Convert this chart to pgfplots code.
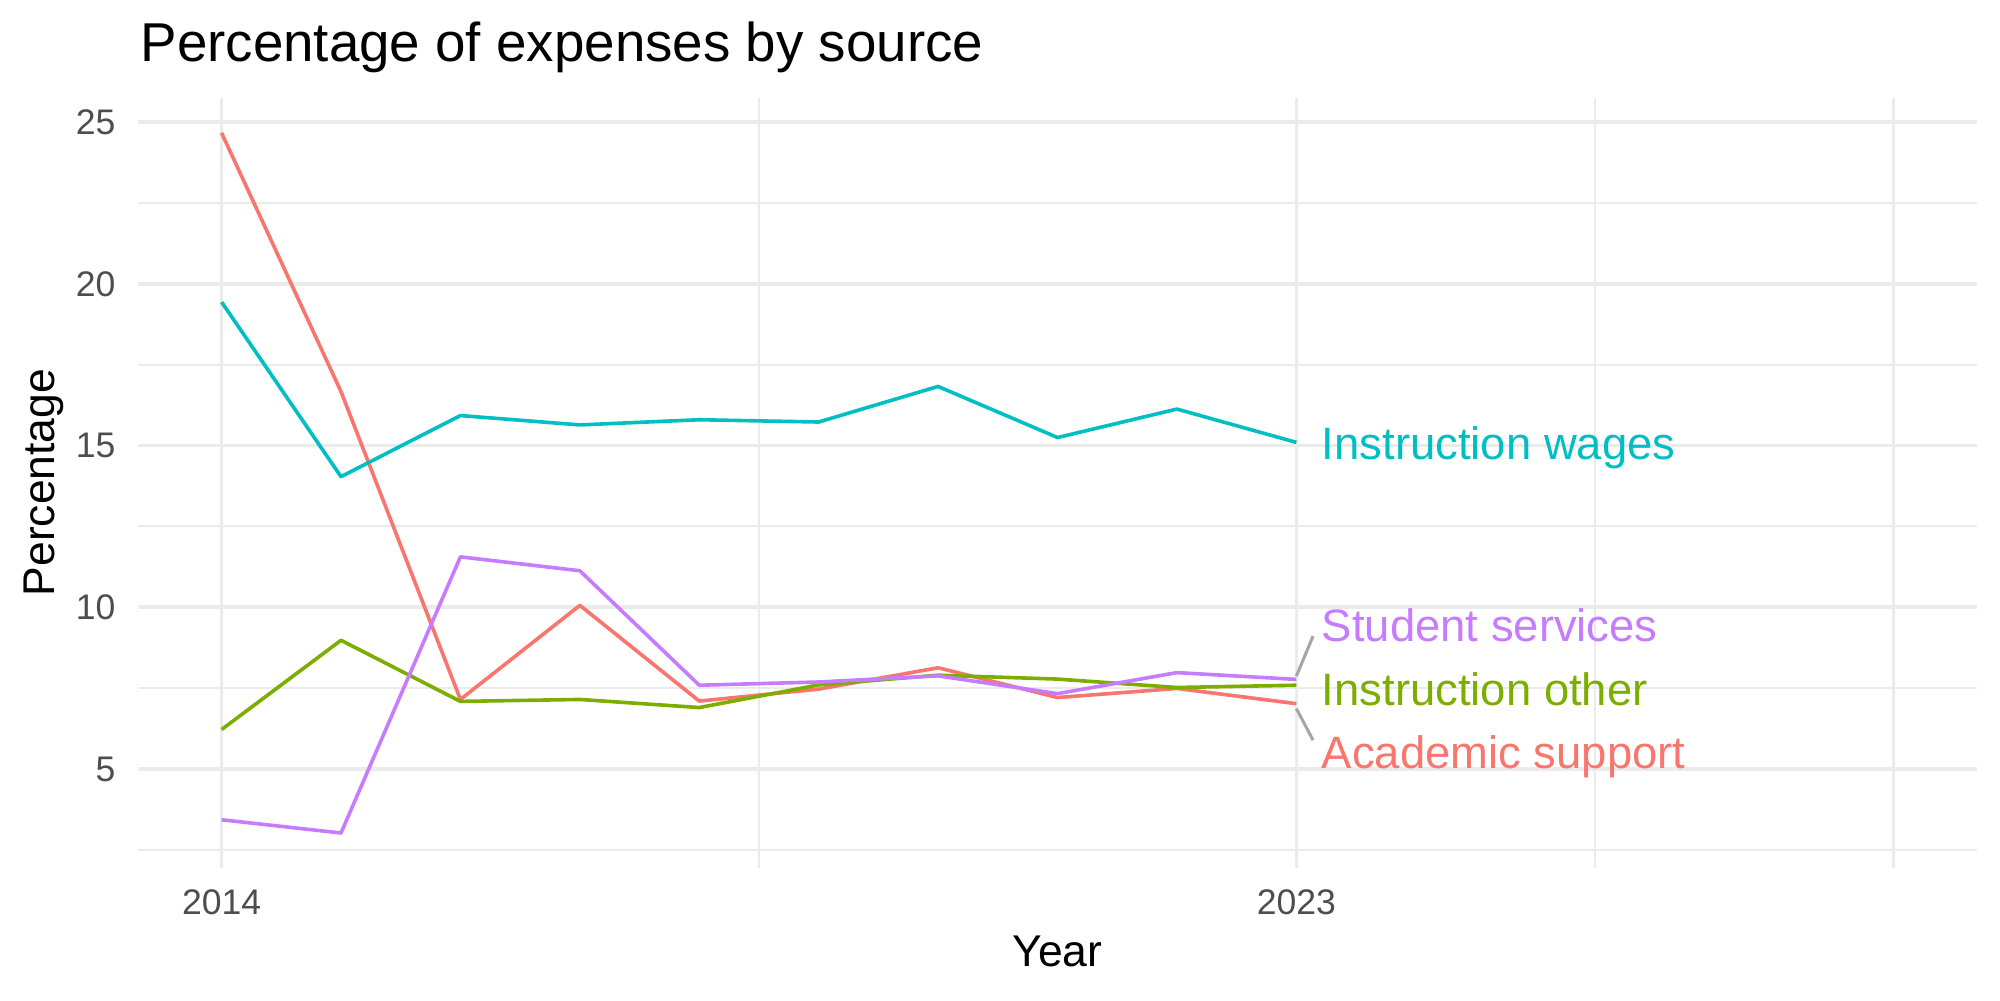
\documentclass[border=0pt]{standalone}
\usepackage{pgfplots}
\pgfplotsset{compat=1.18}
\usepackage{fontspec}
\setmainfont{Liberation Sans}

\definecolor{acad}{HTML}{F8766D}
\definecolor{instother}{HTML}{7CAE00}
\definecolor{wages}{HTML}{00BFC4}
\definecolor{student}{HTML}{C77CFF}
\definecolor{gridgrey}{HTML}{EBEBEB}
\definecolor{tickgrey}{HTML}{4D4D4D}
\definecolor{segment}{HTML}{A6A6A6}

\begin{document}
\begin{tikzpicture}
\useasboundingbox (0,0) rectangle (720pt,360pt);

\begin{axis}[
  at={(49.68pt,47.52pt)}, anchor=south west,
  scale only axis, width=662.04pt, height=277.2pt,
  xmin=2013.3, xmax=2028.7, ymin=1.9375, ymax=25.75,
  xtick={2014,2023,2028}, xticklabels={2014,2023,{}},
  minor xtick={2018.5,2025.5},
  ytick={5,10,15,20,25},
  minor ytick={2.5,7.5,12.5,17.5,22.5},
  grid=both,
  major grid style={draw=gridgrey, line width=1.3pt},
  minor grid style={draw=gridgrey, line width=0.7pt},
  axis line style={draw=none},
  major tick length=0pt, minor tick length=0pt,
  tick style={draw=none},
  /pgf/number format/assume math mode=true,
  xticklabel style={font=\fontsize{12.8}{14}\selectfont, text=tickgrey,
    anchor=base, inner sep=0pt, yshift=-16.9pt},
  yticklabel style={font=\fontsize{12.8}{14}\selectfont, text=tickgrey,
    anchor=east, inner sep=0pt, xshift=-7.9pt},
  clip=false,
  every axis plot/.append style={line width=1.3pt, line join=round, mark=none},
]

% Academic support
\addplot[acad] coordinates {
  (2014,24.67) (2015,16.67) (2016,7.15) (2017,10.06) (2018,7.10)
  (2019,7.47) (2020,8.13) (2021,7.21) (2022,7.49) (2023,7.02)};
% Instruction other
\addplot[instother] coordinates {
  (2014,6.22) (2015,8.98) (2016,7.09) (2017,7.15) (2018,6.90)
  (2019,7.60) (2020,7.90) (2021,7.78) (2022,7.52) (2023,7.59)};
% Instruction wages
\addplot[wages] coordinates {
  (2014,19.44) (2015,14.04) (2016,15.93) (2017,15.64) (2018,15.80)
  (2019,15.73) (2020,16.83) (2021,15.25) (2022,16.13) (2023,15.10)};
% Student services
\addplot[student] coordinates {
  (2014,3.43) (2015,3.02) (2016,11.56) (2017,11.13) (2018,7.59)
  (2019,7.69) (2020,7.88) (2021,7.33) (2022,7.98) (2023,7.77)};

% leader segments for the repelled labels
\addplot[segment, line width=1.1pt] coordinates {(2023.0,7.87) (2023.14,9.11)};
\addplot[segment, line width=1.1pt] coordinates {(2023.0,6.87) (2023.14,5.89)};

% direct labels at the line ends
\begin{scope}[every node/.style={anchor=base west, inner sep=0pt,
    font=\fontsize{16.35}{18}\selectfont}]
\node[text=wages]     at (axis cs:2023.21,14.58) {Instruction wages};
\node[text=student]   at (axis cs:2023.21,8.93)  {Student services};
\node[text=instother] at (axis cs:2023.21,6.97)  {Instruction other};
\node[text=acad]      at (axis cs:2023.21,5.03)  {Academic support};
\end{scope}
\end{axis}

% titles
\node[anchor=base west, inner sep=0pt, font=\fontsize{19.7}{22}\selectfont]
  at (50.4pt,337.8pt) {Percentage of expenses by source};
\node[anchor=base, inner sep=0pt, font=\fontsize{16}{18}\selectfont]
  at (380.7pt,11.9pt) {Year};
\node[rotate=90, anchor=base, inner sep=0pt, font=\fontsize{16}{18}\selectfont]
  at (19.6pt,186.3pt) {Percentage};
\end{tikzpicture}
\end{document}
